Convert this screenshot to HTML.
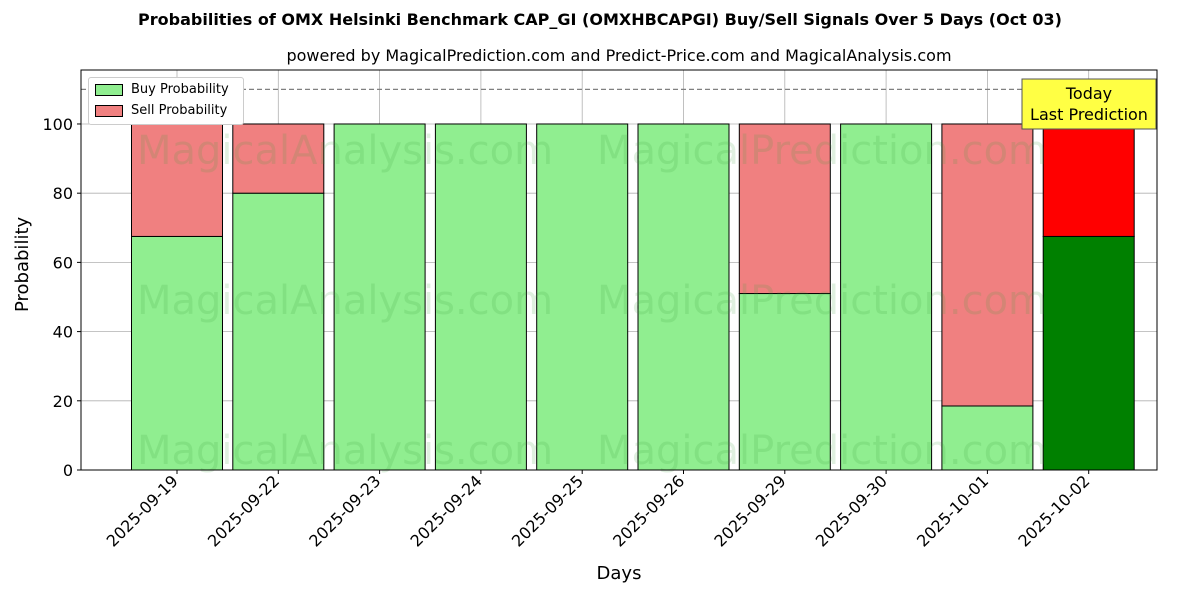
<!DOCTYPE html>
<html><head><meta charset="utf-8"><style>
body{margin:0;background:#fff;font-family:"DejaVu Sans","Liberation Sans",sans-serif;}
svg text{font-family:"DejaVu Sans","Liberation Sans",sans-serif;}
</style></head><body>
<svg id="chart" width="1200" height="600" xmlns="http://www.w3.org/2000/svg"></svg>
<script>
const categories=["2025-09-19","2025-09-22","2025-09-23","2025-09-24","2025-09-25","2025-09-26","2025-09-29","2025-09-30","2025-10-01","2025-10-02"];
const buyValues=[67.5,80,100,100,100,100,51,100,18.5,67.5];
const sellValues=[32.5,20,0,0,0,0,49,0,81.5,32.5];
const yTicks=[0,20,40,60,80,100];
const thresholdValue=110;

const svg=document.getElementById('chart');
const NS="http://www.w3.org/2000/svg";
const L=81,R=1157,T=70,B=470,yMax=115.6;
const y=v=>B-(v/yMax)*(B-T);
const step=101.3;
const x=i=>177+step*i;
const bw=91;
function el(tag,attrs,txt){const e=document.createElementNS(NS,tag);for(const k in attrs)e.setAttribute(k,attrs[k]);if(txt!==undefined)e.textContent=txt;svg.appendChild(e);return e;}

// grid
yTicks.forEach(t=>{const g=el('line',{x1:L,x2:R,y1:y(t),y2:y(t),stroke:'#b0b0b0','stroke-width':0.8});

});
categories.forEach((c,i)=>{const g=el('line',{x1:x(i),x2:x(i),y1:T,y2:B,stroke:'#b0b0b0','stroke-width':0.8});

});

// bars
categories.forEach((c,i)=>{
const last=i===categories.length-1;
const b=el('rect',{x:x(i)-bw/2,y:y(buyValues[i]),width:bw,height:y(0)-y(buyValues[i]),fill:last?'#008000':'#90ee90',stroke:'#000','stroke-width':1});


if(sellValues[i]>0){
const s=el('rect',{x:x(i)-bw/2,y:y(buyValues[i]+sellValues[i]),width:bw,height:y(buyValues[i])-y(buyValues[i]+sellValues[i]),fill:last?'#ff0000':'#f08080',stroke:'#000','stroke-width':1});

}
});

// watermarks
[[345,150,'MagicalAnalysis.com'],[822,150,'MagicalPrediction.com'],[345,300,'MagicalAnalysis.com'],[822,300,'MagicalPrediction.com'],[345,450,'MagicalAnalysis.com'],[822,450,'MagicalPrediction.com']].forEach(w=>{
const t=el('text',{x:w[0],y:w[1]+14,'font-size':40,fill:'rgba(60,160,60,0.16)','text-anchor':'middle'},w[2]);

});

// threshold
const th=el('line',{x1:L,x2:R,y1:y(thresholdValue),y2:y(thresholdValue),stroke:'#808080','stroke-width':1.2,'stroke-dasharray':'5,3'});



// axes frame
const fr=el('rect',{x:L,y:T,width:R-L,height:B-T,fill:'none',stroke:'#000','stroke-width':1});



// y ticks
yTicks.forEach(t=>{el('line',{x1:L-4,x2:L,y1:y(t),y2:y(t),stroke:'#000'});
const tx=el('text',{x:L-8,y:y(t)+6,'font-size':16,'text-anchor':'end'},t);

});
// x ticks
categories.forEach((c,i)=>{el('line',{x1:x(i),x2:x(i),y1:B,y2:B+4,stroke:'#000'});
const tx=el('text',{x:x(i)+2,y:B+12,'font-size':16,'text-anchor':'end',transform:`rotate(-45 ${x(i)+2} ${B+12})`},c);

});

// today box
const tb=el('rect',{x:1022,y:79,width:134,height:50,fill:'#ffff44',stroke:'#555','stroke-width':1});


const t1=el('text',{x:1089,y:99,'font-size':16,'text-anchor':'middle'},'Today');


const t2=el('text',{x:1089,y:120,'font-size':16,'text-anchor':'middle'},'Last Prediction');


</script>
<div style="position:absolute;left:0;top:0;width:1200px;height:600px;pointer-events:none">
<div style="position:absolute;top:10px;width:1200px;text-align:center;font-size:16px;font-weight:bold">Probabilities of OMX Helsinki Benchmark CAP_GI (OMXHBCAPGI) Buy/Sell Signals Over 5 Days (Oct 03)</div>
<div style="position:absolute;top:46px;left:81px;width:1076px;text-align:center;font-size:16px">powered by MagicalPrediction.com and Predict-Price.com and MagicalAnalysis.com</div>
<div style="position:absolute;top:563px;left:81px;width:1076px;text-align:center;font-size:18px">Days</div>
<div style="position:absolute;left:12px;top:262px;font-size:18px;transform:rotate(-90deg);transform-origin:0 0;"><span style="position:relative;left:-50px;top:0">Probability</span></div>
<div style="position:absolute;left:88px;top:77px;width:154px;height:46px;border:1px solid #ccc;border-radius:3px;background:#fff;font-size:13px">
<div style="position:absolute;left:6px;top:4px;"><span style="display:inline-block;width:26px;height:10px;background:#90ee90;border:1px solid #000;vertical-align:middle;margin-right:8px"></span>Buy Probability</div>
<div style="position:absolute;left:6px;top:25px;"><span style="display:inline-block;width:26px;height:10px;background:#f08080;border:1px solid #000;vertical-align:middle;margin-right:8px"></span>Sell Probability</div>
</div>
</div>
</body></html>
